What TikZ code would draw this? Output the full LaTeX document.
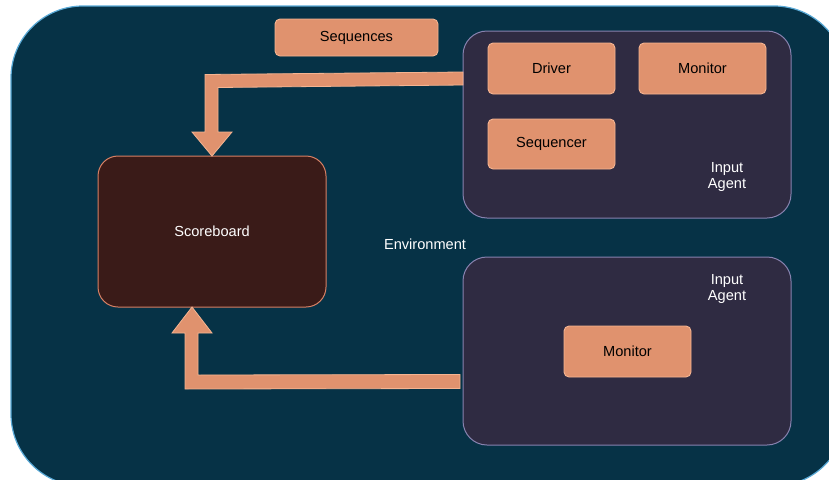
\documentclass[tikz,border=0pt]{standalone}
\usepackage{fontspec}
\setmainfont{Liberation Sans}
\usetikzlibrary{calc}
\begin{document}
\begin{tikzpicture}[x=1pt,y=-1pt,
  every node/.style={inner sep=0pt,outer sep=0pt,font=\fontsize{14.6}{17}\selectfont},
  envbg/.style={fill=envfill,draw=envline,line width=1.2pt,rounded corners=72pt},
  agentbox/.style={rectangle,fill=agentfill,draw=agentline,line width=1pt,rounded corners=24pt},
  orangebox/.style={rectangle,fill=orangefill,draw=orangeline,line width=0.9pt,rounded corners=5pt,text=black},
  scorebox/.style={rectangle,fill=scorefill,draw=scoreline,line width=1pt,rounded corners=20pt,text=white},
  whitelabel/.style={text=white,align=center},
  flexarrow/.style={fill=orangefill,draw=orangeline,line width=0.8pt,line join=miter}
]
\definecolor{envfill}{RGB}{6,50,70}
\definecolor{envline}{RGB}{90,170,215}
\definecolor{agentfill}{RGB}{47,43,66}
\definecolor{agentline}{RGB}{135,130,175}
\definecolor{orangefill}{RGB}{224,146,110}
\definecolor{orangeline}{RGB}{245,180,145}
\definecolor{scorefill}{RGB}{58,27,24}
\definecolor{scoreline}{RGB}{215,128,100}

\useasboundingbox (0,0) rectangle (829,479);
\begin{scope}
\clip (0,0) rectangle (829,479);
\draw[envbg] (11,6) rectangle (846,486);
\end{scope}

% nodes
\node[orangebox,minimum width=163pt,minimum height=37pt] (seqs) at (356.5,37.5) {Sequences};
\node[agentbox,minimum width=328pt,minimum height=187pt] (agent1) at (627,124.5) {};
\node[agentbox,minimum width=328pt,minimum height=188pt] (agent2) at (627,351) {};
\node[orangebox,minimum width=127pt,minimum height=51pt] (driver) at (551.5,68.5) {Driver};
\node[orangebox,minimum width=127pt,minimum height=51pt] (mon1) at (702.5,68.5) {Monitor};
\node[orangebox,minimum width=127pt,minimum height=50pt] (seqr) at (551.5,144) {Sequencer};
\node[orangebox,minimum width=127pt,minimum height=51pt] (mon2) at (627.5,351.5) {Monitor};
\node[scorebox,minimum width=228pt,minimum height=151pt] (score) at (212,231.5) {Scoreboard};
\node[whitelabel] (ia1) at (727,176.5) {Input\\[-1pt]Agent};
\node[whitelabel] (ia2) at (727,288.5) {Input\\[-1pt]Agent};
\node[whitelabel] (env) at (425,244) {Environment};

% flex arrows
\coordinate (a1end) at ($(agent1.west)+(0,-46)$);
\coordinate (a2start) at ($(agent2.west)+(-3,30.5)$);
\draw[flexarrow] ($(a1end)+(0,-6.5)$) -- (205,74.5) -- (205,132) -- (192,132)
  -- (score.north) -- (232,132) -- (218,132) -- (218,87.5) -- ($(a1end)+(0,6.5)$) -- cycle;
\draw[flexarrow] ($(a2start)+(0,-7)$) -- (198,375) -- (198,333) -- (212,333)
  -- ($(score.south)+(-20,0)$) -- (172,333) -- (185,333) -- (185,389) -- ($(a2start)+(0,7)$) -- cycle;
\end{tikzpicture}
\end{document}
